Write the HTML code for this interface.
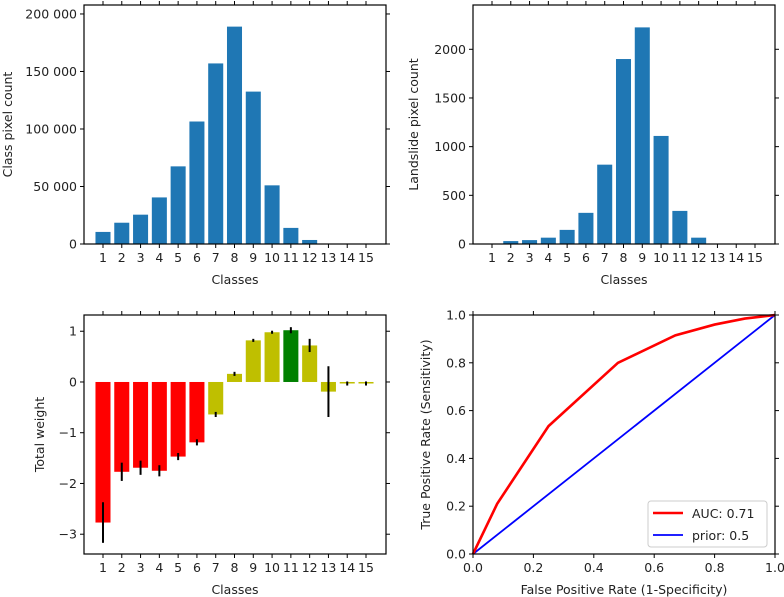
<!DOCTYPE html>
<html><head><meta charset="utf-8">
<style>
body{margin:0;background:#fff;}
svg{display:block;font-family:"DejaVu Sans","Liberation Sans",sans-serif;}
text{fill:#222;font-size:12.5px;}
</style></head>
<body>
<svg id="fig" width="784" height="597"></svg>
<script>
const classes=[1,2,3,4,5,6,7,8,9,10,11,12,13,14,15];
const classCounts=[10500,18500,25500,40500,67500,106500,157000,189000,132500,51000,14000,3500,0,0,0];
const landslideCounts=[0,30,40,65,145,320,815,1900,2225,1110,340,65,0,0,0];
const weights=[-2.77,-1.77,-1.69,-1.75,-1.47,-1.19,-0.64,0.16,0.82,0.98,1.02,0.72,-0.19,-0.03,-0.03];
const weightErr=[0.4,0.18,0.14,0.11,0.07,0.06,0.05,0.04,0.03,0.03,0.06,0.13,0.5,0.04,0.04];
const weightColors=['#ff0000','#ff0000','#ff0000','#ff0000','#ff0000','#ff0000','#bfbf00','#bfbf00','#bfbf00','#bfbf00','#008000','#bfbf00','#bfbf00','#bfbf00','#bfbf00'];
const rocX=[0,0.08,0.25,0.48,0.67,0.8,0.9,1];
const rocY=[0,0.21,0.535,0.8,0.915,0.96,0.985,1];
const priorX=[0,1];
const priorY=[0,1];
const countTicks=[0,50000,100000,150000,200000];
const countTickLabels=['0','50 000','100 000','150 000','200 000'];
const landTicks=[0,500,1000,1500,2000];
const weightTicks=[-3,-2,-1,0,1];
const weightTickLabels=['\u22123','\u22122','\u22121','0','1'];
const rocTicks=[0,0.2,0.4,0.6,0.8,1];

const NS='http://www.w3.org/2000/svg';
const fig=document.getElementById('fig');
function el(tag,attrs,parent){const e=document.createElementNS(NS,tag);for(const k in attrs)e.setAttribute(k,attrs[k]);(parent||fig).appendChild(e);return e;}
function txt(s,attrs,parent){const t=el('text',attrs,parent);t.textContent=s;return t;}

function makeAxes(name,L,R,T,B,xmin,xmax,ymin,ymax){
  const g=el('g',{});
  
  
  const sx=v=>L+(v-xmin)/(xmax-xmin)*(R-L);
  const sy=v=>B-(v-ymin)/(ymax-ymin)*(B-T);
  return {g,sx,sy,L,R,T,B};
}
function frame(a){
  const r=el('rect',{x:a.L,y:a.T,width:a.R-a.L,height:a.B-a.T,fill:'none',stroke:'#000','stroke-width':1.2},a.g);
  
  
}
function xTicks(a,vals,labels,name){
  const g=el('g',{},a.g);
  
  
  vals.forEach((v,i)=>{const x=a.sx(v);
    el('line',{x1:x,x2:x,y1:a.B,y2:a.B+4,stroke:'#000'},g);
    el('line',{x1:x,x2:x,y1:a.T,y2:a.T-4,stroke:'#000'},g);
    txt(labels[i],{x:x,y:a.B+18,'text-anchor':'middle'},g);});
}
function yTicks(a,vals,labels,name){
  const g=el('g',{},a.g);
  
  
  vals.forEach((v,i)=>{const y=a.sy(v);
    el('line',{x1:a.L,x2:a.L-4,y1:y,y2:y,stroke:'#000'},g);
    el('line',{x1:a.R,x2:a.R+4,y1:y,y2:y,stroke:'#000'},g);
    txt(labels[i],{x:a.L-7,y:y+4.5,'text-anchor':'end'},g);});
}
function xlabel(a,s,y){const t=txt(s,{x:(a.L+a.R)/2,y:y,'text-anchor':'middle'},a.g);}
function ylabel(a,s,x){const cy=(a.T+a.B)/2;const t=txt(s,{x:x,y:cy,'text-anchor':'middle',transform:`rotate(-90 ${x} ${cy})`},a.g);}

const BW=0.8;
// Panel 1
const a1=makeAxes('class-count-chart',84,386,5,244,1-(103-84)/18.8,15+(386-366)/18.8,0,207800);
classCounts.forEach((v,i)=>{const x=a1.sx(classes[i]);const w=a1.sx(1+BW)-a1.sx(1);
  const r=el('rect',{x:x-w/2,y:a1.sy(v),width:w,height:a1.sy(0)-a1.sy(v),fill:'#1f77b4'},a1.g);
  
  });
frame(a1);xTicks(a1,classes,classes.map(String),'x-axis-ticks');yTicks(a1,countTicks,countTickLabels,'y-axis-ticks');
xlabel(a1,'Classes',284);ylabel(a1,'Class pixel count',12);

// Panel 2
const a2=makeAxes('landslide-count-chart',473,775,5,244,1-(492-473)/18.8,15+(775-755)/18.8,0,2455);
landslideCounts.forEach((v,i)=>{const x=a2.sx(classes[i]);const w=a2.sx(1+BW)-a2.sx(1);
  const r=el('rect',{x:x-w/2,y:a2.sy(v),width:w,height:a2.sy(0)-a2.sy(v),fill:'#1f77b4'},a2.g);
  
  });
frame(a2);xTicks(a2,classes,classes.map(String),'x-axis-ticks');yTicks(a2,landTicks,landTicks.map(String),'y-axis-ticks');
xlabel(a2,'Classes',284);ylabel(a2,'Landslide pixel count',418);

// Panel 3
const a3=makeAxes('total-weight-chart',84,386,315,554,1-(103-84)/18.8,15+(386-366)/18.8,-3.39,1.32);
weights.forEach((v,i)=>{const x=a3.sx(classes[i]);const w=a3.sx(1+BW)-a3.sx(1);
  const y0=Math.min(a3.sy(v),a3.sy(0));
  const r=el('rect',{x:x-w/2,y:y0,width:w,height:Math.abs(a3.sy(v)-a3.sy(0)),fill:weightColors[i]},a3.g);
  
  
  const e=el('line',{x1:x,x2:x,y1:a3.sy(v-weightErr[i]),y2:a3.sy(v+weightErr[i]),stroke:'#000','stroke-width':2},a3.g);
  
  });
frame(a3);xTicks(a3,classes,classes.map(String),'x-axis-ticks');yTicks(a3,weightTicks,weightTickLabels,'y-axis-ticks');
xlabel(a3,'Classes',594);ylabel(a3,'Total weight',44);

// Panel 4
const a4=makeAxes('roc-chart',473,775,315,554,0,1,0,1);
function poly(xs,ys,color,name){const p=el('polyline',{points:xs.map((x,i)=>a4.sx(x)+','+a4.sy(ys[i])).join(' '),fill:'none',stroke:color,'stroke-width':color=='#ff0000'?2.6:1.8},a4.g);
  }
poly(priorX,priorY,'#0000ff','prior-line');
poly(rocX,rocY,'#ff0000','roc-curve');
frame(a4);xTicks(a4,rocTicks,rocTicks.map(v=>v.toFixed(1)),'x-axis-ticks');yTicks(a4,rocTicks,rocTicks.map(v=>v.toFixed(1)),'y-axis-ticks');
xlabel(a4,'False Positive Rate (1-Specificity)',594);ylabel(a4,'True Positive Rate (Sensitivity)',430);
const lg=el('g',{},a4.g);


el('rect',{x:648,y:501,width:119,height:46,rx:3,fill:'#fff',stroke:'#ccc'},lg);
el('line',{x1:653,x2:683,y1:513,y2:513,stroke:'#ff0000','stroke-width':2.6},lg);
txt('AUC: 0.71',{x:692,y:518},lg);
el('line',{x1:653,x2:683,y1:535,y2:535,stroke:'#0000ff','stroke-width':1.8},lg);
txt('prior: 0.5',{x:692,y:540},lg);
</script>
</body></html>
